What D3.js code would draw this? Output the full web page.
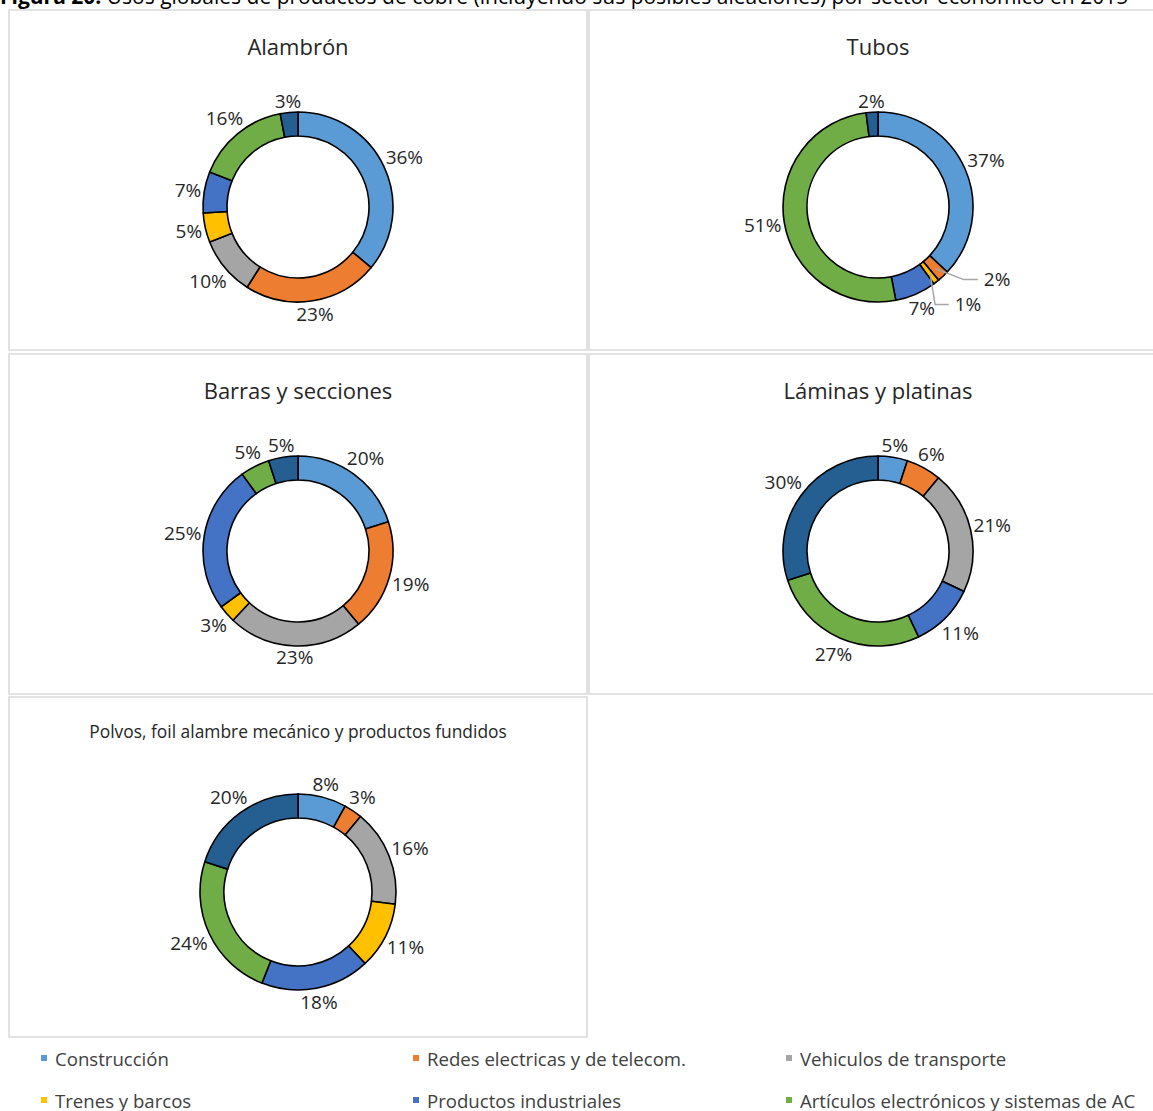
<!DOCTYPE html>
<html>
<head>
<meta charset="utf-8">
<script src="https://cdn.jsdelivr.net/npm/d3@7/dist/d3.min.js"></script>
<style>
  html, body { margin: 0; padding: 0; background: #fff; }
  svg { display: block; font-family: "Open Sans", Lato, sans-serif; }
</style>
</head>
<body>
<svg id="chart" width="1153" height="1111"></svg>
<script>
// Sectors (shared by every donut) and their colours
const categories = [
  "Construcción",
  "Redes electricas y de telecom.",
  "Vehiculos de transporte",
  "Trenes y barcos",
  "Productos industriales",
  "Artículos electrónicos y sistemas de AC",
  "Otros"
];
const colors = ["#5b9bd5", "#ed7d31", "#a5a5a5", "#ffc000", "#4472c4", "#70ad47", "#255e91"];

// Share (%) of each sector, per product
const productTitles = [
  "Alambrón",
  "Tubos",
  "Barras y secciones",
  "Láminas y platinas",
  "Polvos, foil alambre mecánico y productos fundidos"
];
const alambron = [36, 23, 10, 5, 7, 16, 3];
const tubos    = [37, 2, 0, 1, 7, 51, 2];
const barras   = [20, 19, 23, 3, 25, 5, 5];
const laminas  = [5, 6, 21, 0, 11, 27, 30];
const polvos   = [8, 3, 16, 11, 18, 24, 20];
const seriesValues = [alambron, tubos, barras, laminas, polvos];

const caption = "Usos globales de productos de cobre (incluyendo sus posibles aleaciones) por sector económico en 2015";

const svg = d3.select("#chart");

// Caption (partly above the page edge)
const cap = svg.append("text").attr("x", 0).attr("y", 4)
  .attr("font-size", 21).attr("fill", "#000");
cap.append("tspan").attr("font-weight", "bold").text("Figura 20: ");
cap.append("tspan").text(caption);

// Panel grid
const panels = [
  { x: 9,   y: 10,  w: 578, h: 340, cx: 298, cy: 207, R: 95, r: 71, tfs: 22, ty: 46 },
  { x: 589, y: 10,  w: 580, h: 340, cx: 878, cy: 207, R: 95, r: 71, tfs: 22, ty: 46 },
  { x: 9,   y: 354, w: 578, h: 340, cx: 298, cy: 551, R: 95, r: 71, tfs: 22, ty: 390 },
  { x: 589, y: 354, w: 580, h: 340, cx: 878, cy: 551, R: 95, r: 71, tfs: 22, ty: 390 },
  { x: 9,   y: 697, w: 578, h: 340, cx: 298, cy: 892, R: 98, r: 74, tfs: 17.4, ty: 731 }
];

// Small slices whose labels are pulled out with a leader line: [chart, slice, angle(deg), distance]
const leaderLabels = [[1, 1, 121, 139], [1, 3, 137, 132]];

const pie = d3.pie().sort(null).value(d => d);

panels.forEach((p, i) => {
  const g = svg.append("g");
  g.append("rect").attr("x", p.x).attr("y", p.y).attr("width", p.w).attr("height", p.h)
    .attr("fill", "#fff").attr("stroke", "#d9d9d9").attr("stroke-width", 1.5);

  g.append("text").attr("x", p.cx).attr("y", p.ty)
    .attr("text-anchor", "middle").attr("dominant-baseline", "central")
    .attr("font-size", p.tfs).attr("fill", "#262626")
    .text(productTitles[i]);

  const arc = d3.arc().innerRadius(p.r).outerRadius(p.R);
  const arcs = pie(seriesValues[i]);
  const dg = g.append("g").attr("transform", `translate(${p.cx},${p.cy})`);

  dg.selectAll("path").data(arcs).join("path")
    .attr("d", arc)
    .attr("fill", (d, j) => colors[j])
    .attr("stroke", "#000").attr("stroke-width", 1.6).attr("stroke-linejoin", "round");

  arcs.forEach((d, j) => {
    if (d.data === 0) return;
    const mid = (d.startAngle + d.endAngle) / 2;
    const lead = leaderLabels.find(l => l[0] === i && l[1] === j);
    const t = dg.append("text")
      .attr("text-anchor", "middle").attr("dominant-baseline", "central")
      .attr("font-size", 19).attr("fill", "#262626")
      .text(d.data + "%");
    const bb = t.node().getBBox();
    const hw = bb.width / 2, hh = 8.5;
    let lx, ly;
    if (lead) {
      const a = lead[2] * Math.PI / 180;
      lx = Math.sin(a) * lead[3];
      ly = -Math.cos(a) * lead[3];
      // leader from inside the slice to the label's left side
      const rIn = (p.r + p.R) / 2 + 2;
      const sx = Math.sin(mid) * rIn, sy = -Math.cos(mid) * rIn;
      const ex = lx - hw - 6, ey = ly + 1;
      const kx = ex - 14;
      dg.append("polyline")
        .attr("points", lead[1] === 1
          ? `${sx},${sy} ${kx},${ey} ${ex},${ey}`
          : `${sx},${sy} ${sx + 5},${ey} ${ex},${ey}`)
        .attr("fill", "none").attr("stroke", "#a6a6a6").attr("stroke-width", 1.5);
    } else {
      const ux = Math.sin(mid), uy = -Math.cos(mid);
      const support = hw * Math.abs(ux) + hh * Math.abs(uy);
      const dist = p.R + 2 + support;
      lx = ux * dist; ly = uy * dist;
    }
    t.attr("x", lx).attr("y", ly);
  });
});

// Legend: three columns
const legendCols = [44, 416, 789];
const legend = svg.append("g");
categories.forEach((c, k) => {
  const x = legendCols[k % 3], y = 1058 + Math.floor(k / 3) * 42;
  legend.append("rect").attr("x", x - 3).attr("y", y - 3).attr("width", 6).attr("height", 6)
    .attr("fill", colors[k]);
  legend.append("text").attr("x", x + 11).attr("y", y)
    .attr("dominant-baseline", "central").attr("font-size", 18.6).attr("fill", "#404040")
    .text(c);
});
</script>
</body>
</html>
